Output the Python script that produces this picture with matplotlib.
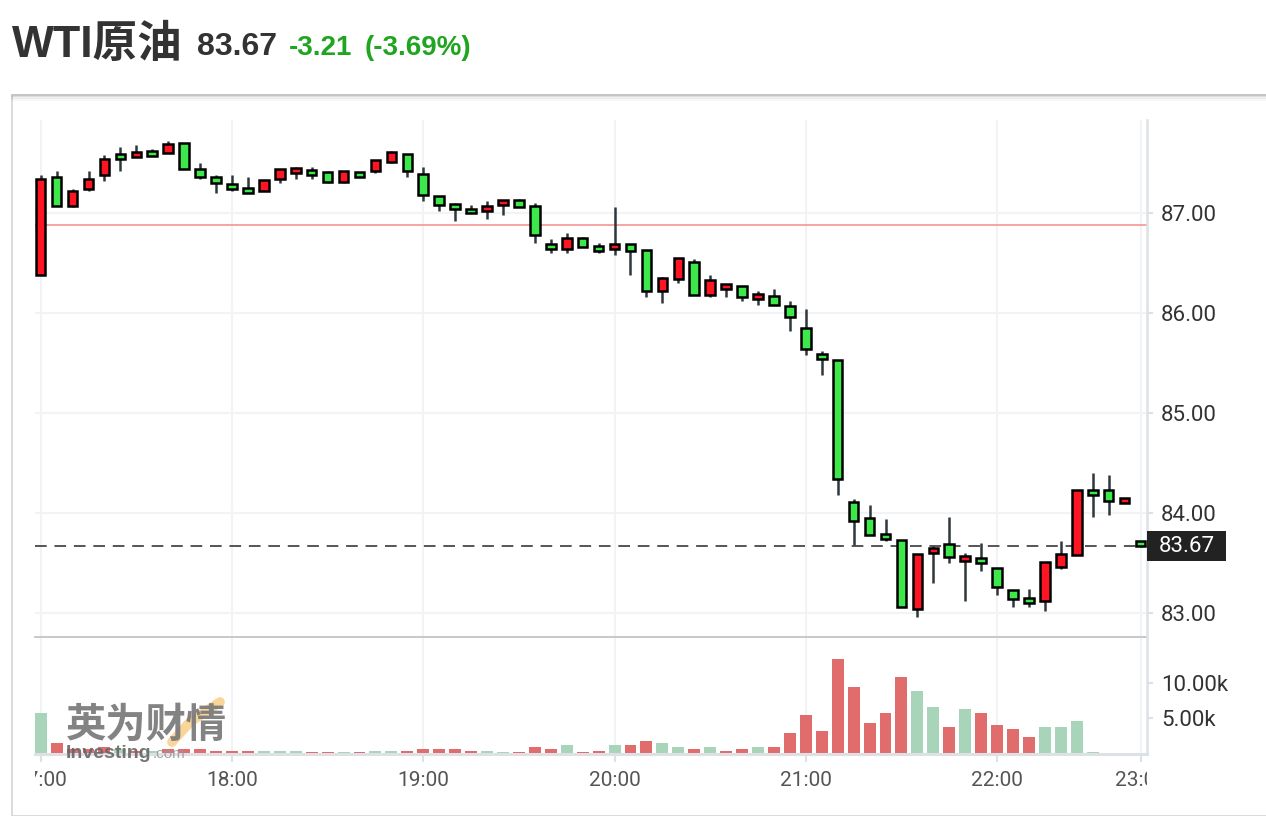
import numpy as np
import matplotlib.pyplot as plt
from matplotlib.patches import Rectangle
from matplotlib.lines import Line2D

# 5-minute candles, WTI crude
opens = [86.38, 87.36, 87.07, 87.24, 87.38, 87.59, 87.56, 87.62, 87.60, 87.70,
         87.44, 87.36, 87.29, 87.25, 87.22, 87.34, 87.40, 87.43, 87.41, 87.31,
         87.41, 87.42, 87.51, 87.59, 87.39, 87.17, 87.09, 87.04, 87.02, 87.08,
         87.13, 87.07, 86.69, 86.64, 86.75, 86.67, 86.64, 86.69, 86.63, 86.22,
         86.34, 86.51, 86.18, 86.24, 86.27, 86.14, 86.17, 86.07, 85.85, 85.59,
         85.53, 84.11, 83.95, 83.79, 83.73, 83.04, 83.60, 83.69, 83.52, 83.55,
         83.45, 83.23, 83.15, 83.12, 83.46, 83.58, 84.23, 84.23, 84.10, 83.72]
closes = [87.34, 87.07, 87.22, 87.34, 87.54, 87.54, 87.61, 87.57, 87.69, 87.44,
          87.36, 87.30, 87.24, 87.20, 87.33, 87.44, 87.45, 87.38, 87.31, 87.42,
          87.36, 87.53, 87.61, 87.42, 87.18, 87.08, 87.04, 87.00, 87.07, 87.13,
          87.06, 86.78, 86.64, 86.75, 86.66, 86.62, 86.69, 86.62, 86.22, 86.35,
          86.55, 86.18, 86.33, 86.29, 86.16, 86.19, 86.08, 85.96, 85.64, 85.54,
          84.34, 83.92, 83.78, 83.74, 83.06, 83.59, 83.65, 83.56, 83.57, 83.50,
          83.26, 83.14, 83.10, 83.51, 83.59, 84.23, 84.18, 84.12, 84.15, 83.67]
highs = [87.38, 87.42, 87.24, 87.42, 87.58, 87.66, 87.68, 87.64, 87.72, 87.70,
         87.50, 87.38, 87.38, 87.36, 87.33, 87.44, 87.46, 87.46, 87.42, 87.42,
         87.41, 87.53, 87.62, 87.59, 87.46, 87.17, 87.10, 87.08, 87.12, 87.13,
         87.14, 87.10, 86.74, 86.80, 86.76, 86.70, 87.06, 86.69, 86.63, 86.36,
         86.55, 86.54, 86.38, 86.29, 86.27, 86.22, 86.24, 86.12, 86.04, 85.62,
         85.53, 84.14, 84.08, 83.94, 83.73, 83.59, 83.67, 83.96, 83.60, 83.70,
         83.45, 83.23, 83.24, 83.51, 83.72, 84.23, 84.40, 84.38, 84.15, 83.72]
lows = [86.38, 87.07, 87.06, 87.22, 87.32, 87.42, 87.56, 87.57, 87.60, 87.44,
        87.34, 87.20, 87.22, 87.20, 87.22, 87.30, 87.34, 87.34, 87.30, 87.30,
        87.36, 87.40, 87.50, 87.36, 87.12, 87.02, 86.92, 87.00, 86.94, 86.98,
        87.06, 86.70, 86.60, 86.60, 86.66, 86.60, 86.58, 86.38, 86.16, 86.10,
        86.30, 86.18, 86.16, 86.16, 86.12, 86.08, 86.08, 85.82, 85.58, 85.38,
        84.18, 83.68, 83.78, 83.72, 83.06, 82.96, 83.30, 83.50, 83.12, 83.42,
        83.18, 83.06, 83.06, 83.02, 83.44, 83.58, 83.96, 83.98, 84.10, 83.66]

# volume in thousands, with the colour flag shown on the chart
volume = [5.7, 1.4, 0.6, 0.6, 0.9, 0.6, 0.3, 0.3, 0.6, 0.57,
          0.57, 0.3, 0.3, 0.3, 0.3, 0.3, 0.3, 0.15, 0.15, 0.15,
          0.15, 0.3, 0.3, 0.3, 0.57, 0.57, 0.57, 0.3, 0.3, 0.15,
          0.15, 0.86, 0.57, 1.1, 0.15, 0.3, 1.1, 1.1, 1.7, 1.4,
          0.86, 0.57, 0.86, 0.3, 0.57, 0.86, 0.86, 2.86, 5.4, 3.1,
          13.4, 9.4, 4.3, 5.7, 10.9, 8.9, 6.6, 3.7, 6.3, 5.7,
          4.0, 3.4, 2.3, 3.7, 3.7, 4.6, 0.15, 0.0, 0.0, 0.0]
vol_side = list("grrrrgrgrr" "rrrrgggrrg" "rggrrrrrgg" "rrrgrrgrrg"
                "grgrrgrrrr" "rrrrrggrgr" "rrrggggggg")

time_idx = [0, 12, 24, 36, 48, 60, 69]
time_labels = ["17:00", "18:00", "19:00", "20:00", "21:00", "22:00", "23:00"]
price_ticks = [83, 84, 85, 86, 87]
vol_ticks = [5, 10]
last_price = 83.67
prev_close = 86.88

W, H = 1266, 816
fig = plt.figure(figsize=(W / 100, H / 100), dpi=100)
fig.patch.set_facecolor("white")


def box(x0, y0, x1, y1):
    return [x0 / W, 1 - y1 / H, (x1 - x0) / W, (y1 - y0) / H]


UP = "#ff1424"
DOWN = "#3de84a"
GRID = "#f2f3f5"
AX = "#dde1e6"

# panel frame
fig.patches.append(Rectangle((12 / W, 0), 1, 1 - 95 / H, transform=fig.transFigure,
                             facecolor="none", edgecolor="#d4d4d4", lw=1.2))
for k, a in enumerate([0.10, 0.06, 0.03]):
    fig.add_artist(Line2D([12 / W, 1], [1 - (95 + k * 2) / H] * 2, color="black",
                          alpha=a, lw=2))

# header
fig.text(12 / W, 1 - 57 / H, "WTI原油", fontsize=32, fontweight="bold", color="#333333",
         family=["Liberation Sans", "Noto Sans CJK SC"], va="baseline")
fig.text(197 / W, 1 - 55 / H, "83.67", fontsize=23, fontweight="bold", color="#333333",
         family="Liberation Sans", va="baseline")
fig.text(289 / W, 1 - 55 / H, "-3.21", fontsize=20, fontweight="bold",
         color="#1fa51f", family="Liberation Sans", va="baseline")
fig.text(365 / W, 1 - 55 / H, "(-3.69%)", fontsize=20, fontweight="bold",
         color="#1fa51f", family="Liberation Sans", va="baseline")

x = np.arange(len(opens))
xl = ((35 - 40.7) / 15.94, (1147 - 40.7) / 15.94)

# price pane
ax = fig.add_axes(box(35, 120, 1147, 637))
ax.set_xlim(*xl)
ax.set_ylim(82.76, 87.93)
for i in time_idx:
    ax.axvline(i, color=GRID, lw=1.5, zorder=0)
for p in price_ticks:
    ax.axhline(p, color=GRID, lw=1.5, zorder=0)
ax.axhline(prev_close, color="#f58c8c", lw=1.1, zorder=1)
ax.axhline(last_price, color="#555555", lw=1.4, ls=(0, (6, 4)), zorder=1)

o = np.array(opens)
c = np.array(closes)
cols = [UP if cc > oo else DOWN for oo, cc in zip(o, c)]
ax.vlines(x, lows, highs, color="#2d383d", lw=1.8, zorder=2)
ax.bar(x, np.where(np.abs(c - o) < 0.04, 0.04, c - o), bottom=o, width=0.6,
       color=cols, edgecolor="black", linewidth=1.8, zorder=3)

for s in ["top", "left", "bottom"]:
    ax.spines[s].set_visible(False)
ax.spines["right"].set_color(AX)
ax.spines["right"].set_linewidth(1.8)
ax.add_artist(Line2D([0, 1], [0, 0], transform=ax.transAxes, color="#c4c4c4", lw=1.3,
                     clip_on=False))
ax.set_xticks([])
ax.yaxis.tick_right()
ax.set_yticks(price_ticks)
ax.set_yticklabels([f"{p:.2f}" for p in price_ticks])
ax.tick_params(axis="y", length=4, color=AX, width=1.5, pad=6, labelsize=16,
               labelcolor="#333333")
for t in ax.get_yticklabels():
    t.set_family("Roboto")

# last price tag
fig.patches.append(Rectangle((1147 / W, 1 - 561 / H), 79 / W, 30 / H,
                             transform=fig.transFigure, facecolor="#222222",
                             edgecolor="none", zorder=5))
fig.text(1187 / W, 1 - 546 / H, "83.67", fontsize=16, family="Roboto", color="white",
         ha="center", va="center", zorder=6)

# volume pane
vax = fig.add_axes(box(35, 638, 1147, 754))
vax.set_xlim(*xl)
vax.set_ylim(-0.14, 16.43)
for i in time_idx:
    vax.axvline(i, color=GRID, lw=1.5, zorder=0)
vcols = ["#e06c6c" if s == "r" else "#a8d5b9" for s in vol_side]
vax.bar(x, volume, width=0.75, color=vcols, zorder=2)
for s in ["top", "left"]:
    vax.spines[s].set_visible(False)
vax.spines["right"].set_color(AX)
vax.spines["right"].set_linewidth(1.8)
vax.spines["bottom"].set_color(AX)
vax.spines["bottom"].set_linewidth(2.2)
vax.set_xticks(time_idx)
vax.set_xticklabels([])
vax.tick_params(axis="x", length=6, color=AX, width=1.5)
vax.yaxis.tick_right()
vax.set_yticks(vol_ticks)
vax.set_yticklabels([f"{v:.2f}k" for v in vol_ticks])
vax.tick_params(axis="y", length=4, color=AX, width=1.5, pad=6, labelsize=16,
                labelcolor="#333333")
for t in vax.get_yticklabels():
    t.set_family("Roboto")

# watermark
fig.add_artist(Line2D([172 / W, 190 / W, 220 / W], [1 - 742 / H, 1 - 722 / H, 1 - 702 / H],
                      color="#f5b342", lw=7, alpha=0.55, solid_capstyle="round"))
fig.text(66 / W, 1 - 737 / H, "英为财情", fontsize=29, fontweight="bold", color="#7c7c7c",
         family="Noto Sans CJK SC", va="baseline", alpha=0.95)
fig.text(66 / W, 1 - 758 / H, "Investing", fontsize=14, fontweight="bold", color="#666666",
         family="Liberation Sans", va="baseline", alpha=0.9)
fig.text(153 / W, 1 - 758 / H, ".com", fontsize=11, color="#9a9a9a",
         family="Liberation Sans", va="baseline", alpha=0.9)

# time labels, clipped to plot width
lax = fig.add_axes(box(35, 760, 1147, 800))
lax.set_xlim(*xl)
lax.set_ylim(0, 1)
lax.axis("off")
for i, lab in zip(time_idx, time_labels):
    lax.text(i, 0.5, lab, ha="center", va="center", fontsize=15, family="Roboto",
             color="#555555", clip_on=True)

fig.savefig("out.png", dpi=100)
